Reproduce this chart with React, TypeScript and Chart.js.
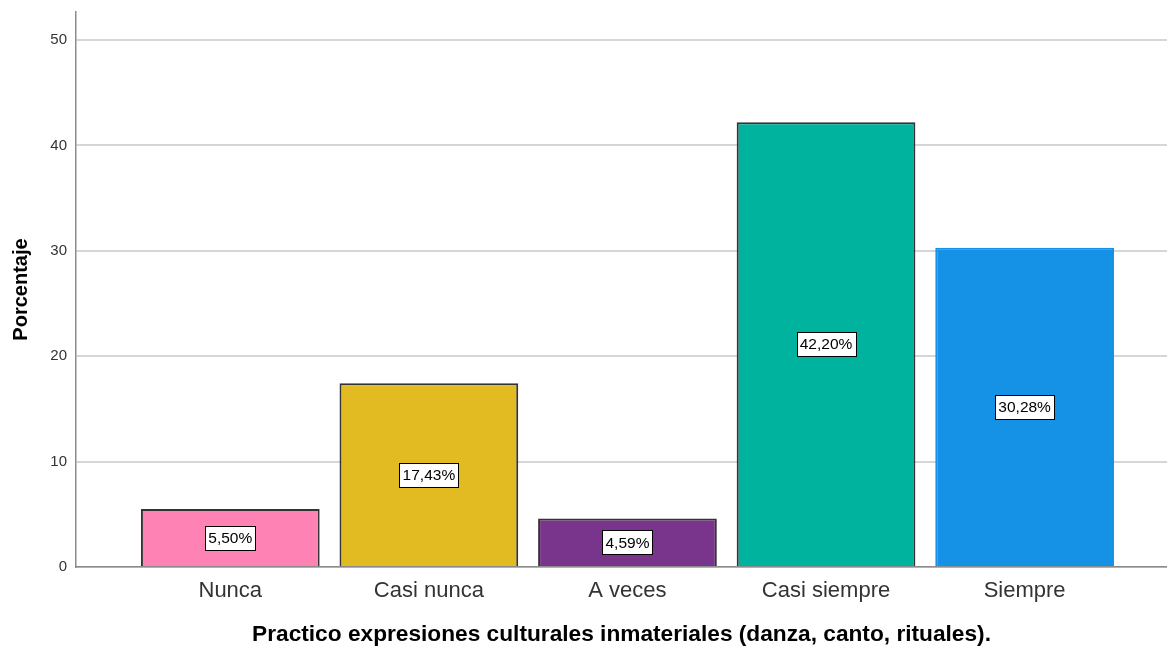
import React, { useEffect, useRef } from "react";
import { Chart, registerables } from "chart.js";

Chart.register(...registerables);

const categories = ["Nunca", "Casi nunca", "A veces", "Casi siempre", "Siempre"];
const percentages = [5.5, 17.43, 4.59, 42.2, 30.28];
const barColors = ["#FF82B4", "#E1BB21", "#79348C", "#00B39F", "#1591E5"];
const borderColors = ["#333333", "#333333", "#333333", "#333333", "#1591E5"];
const yTicks = [0, 10, 20, 30, 40, 50];
const xTitle = "Practico expresiones culturales inmateriales (danza, canto, rituales).";
const yTitle = "Porcentaje";

const FONT = "'Liberation Sans', Arial, sans-serif";

const labelPlugin = {
  id: "boxLabels",
  afterDatasetsDraw(chart: any) {
    const ctx = chart.ctx;
    const meta = chart.getDatasetMeta(0);
    ctx.save();
    ctx.font = `15.5px ${FONT}`;
    ctx.textAlign = "center";
    ctx.textBaseline = "middle";
    meta.data.forEach((bar: any, i: number) => {
      const text = percentages[i].toFixed(2).replace(".", ",") + "%";
      const cx = bar.x;
      const cy = (bar.y + bar.base) / 2;
      const tw = ctx.measureText(text).width;
      const w = Math.round(tw + 6);
      const h = 24;
      const x0 = Math.round(cx - w / 2) + 0.5;
      const y0 = Math.round(cy - h / 2) + 0.5;
      ctx.fillStyle = "#ffffff";
      ctx.fillRect(x0, y0, w, h);
      ctx.strokeStyle = "#000000";
      ctx.lineWidth = 1;
      ctx.strokeRect(x0, y0, w, h);
      ctx.fillStyle = "#000000";
      ctx.fillText(text, cx, cy + 1);
    });
    ctx.restore();
  },
};

export default function App() {
  const ref = useRef<HTMLCanvasElement | null>(null);

  useEffect(() => {
    if (!ref.current) return;
    const chart = new Chart(ref.current, {
      type: "bar",
      data: {
        datasets: [
          {
            data: percentages.map((v, i) => ({ x: i, y: v })),
            backgroundColor: barColors,
            borderColor: borderColors,
            borderWidth: 2,
            categoryPercentage: 0.9,
            barPercentage: 1,
          } as any,
        ],
      },
      options: {
        responsive: false,
        animation: false,
        layout: { padding: { top: 12, right: 0, left: 0, bottom: 0 } },
        plugins: {
          legend: { display: false },
          tooltip: { enabled: false },
        },
        scales: {
          x: {
            type: "linear",
            offset: false,
            min: -0.777,
            max: 4.717,
            afterBuildTicks: (scale: any) => {
              scale.ticks = categories.map((_, i) => ({ value: i }));
            },
            afterFit: (scale: any) => {
              scale.height = 80;
              scale.paddingLeft = 0;
              scale.paddingRight = 0;
            },
            grid: { display: false, drawTicks: false },
            border: { display: true, color: "#8c8c8c", width: 1.5 },
            ticks: {
              autoSkip: false,
              maxRotation: 0,
              padding: 11,
              color: "#333333",
              font: { family: FONT, size: 22 },
              callback: (v: any) => categories[v] ?? "",
            },
            title: {
              display: true,
              text: xTitle,
              color: "#000000",
              font: { family: FONT, size: 22.7, weight: "bold", lineHeight: 1 },
              padding: { top: 0, bottom: 1 },
            },
          },
          y: {
            min: 0,
            max: 52.66,
            afterBuildTicks: (scale: any) => {
              scale.ticks = yTicks.map((v) => ({ value: v }));
            },
            afterFit: (scale: any) => {
              scale.width = 76;
              scale.paddingTop = 0;
              scale.paddingBottom = 0;
            },
            grid: { color: "#d6d6d6", lineWidth: 2, drawTicks: false },
            border: { display: true, color: "#8c8c8c", width: 1.5 },
            ticks: {
              padding: 9,
              color: "#333333",
              font: { family: FONT, size: 15 },
            },
            title: {
              display: true,
              text: yTitle,
              color: "#000000",
              font: { family: FONT, size: 20, weight: "bold" },
              padding: { top: 9, bottom: 0 },
            },
          },
        },
      },
      plugins: [labelPlugin],
    } as any);
    return () => chart.destroy();
  }, []);

  return (
    <div style={{ position: "absolute", left: 0, top: 0, width: 1167, height: 647, background: "#fff" }}>
      <canvas ref={ref} width={1167} height={647} style={{ display: "block" }} />
    </div>
  );
}
